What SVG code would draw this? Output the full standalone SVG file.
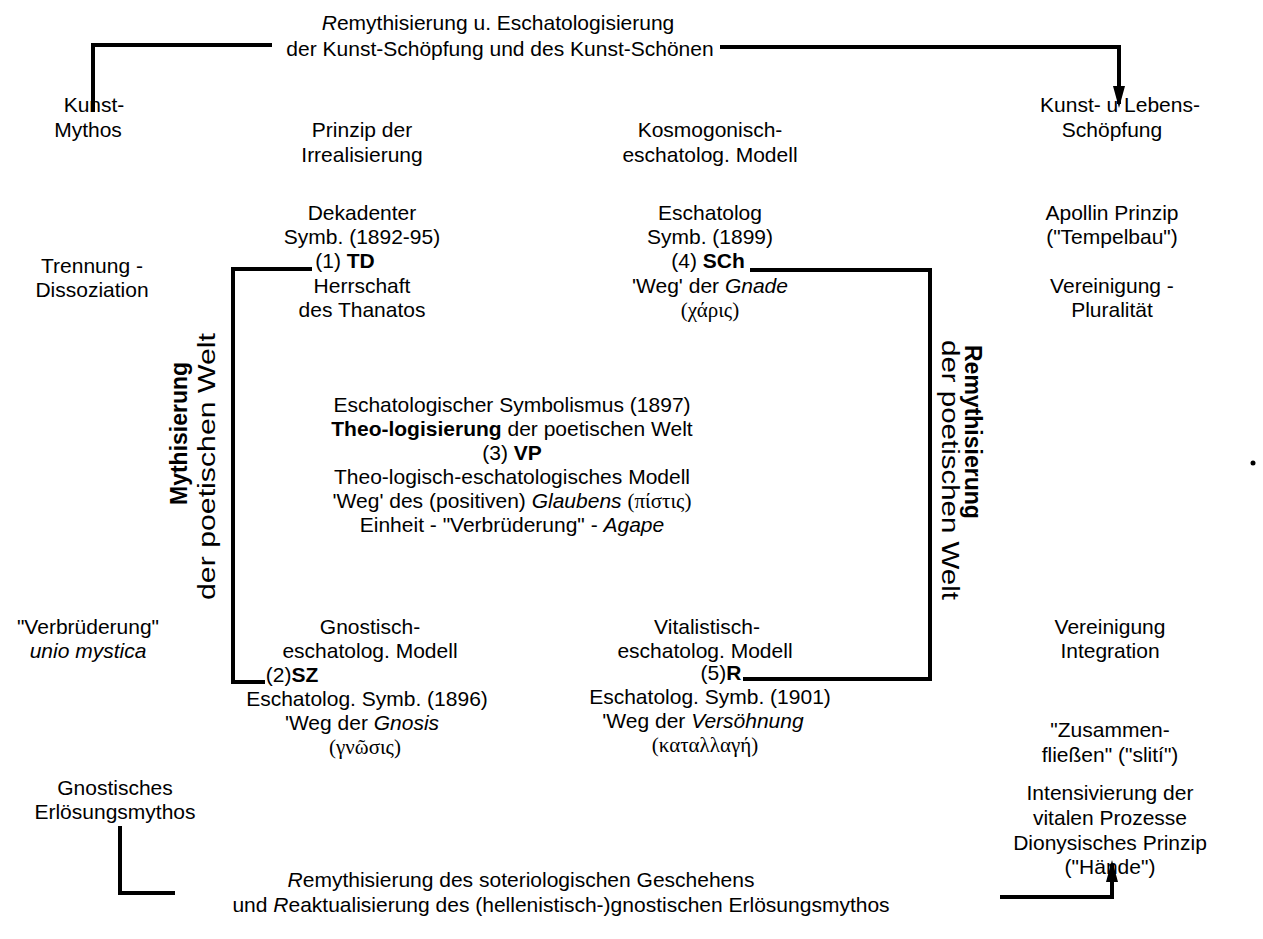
<svg xmlns="http://www.w3.org/2000/svg" width="1263" height="939" viewBox="0 0 1263 939">
<style>
text{font-family:"Liberation Sans",Arial,sans-serif;font-size:21px;fill:#000;text-anchor:middle}
.b{font-weight:bold}
.i{font-style:italic}
.gr{font-family:"Liberation Serif","DejaVu Serif",serif;font-size:21px}
.ln{fill:none;stroke:#000;stroke-width:4}
.vt{font-size:23px}
.st{text-anchor:start}
</style>
<defs>
<marker id="ah" markerUnits="userSpaceOnUse" viewBox="0 0 22 12" refX="18" refY="6" markerWidth="22" markerHeight="12" orient="auto">
<path d="M0,0 L22,6 L0,12 z" fill="#000"/>
</marker>
</defs>
<rect width="1263" height="939" fill="#fff"/>

<g id="connectors">
<path class="ln" d="M93,112 V45 H272"/>
<path class="ln" d="M720,47 H1119 V104" marker-end="url(#ah)"/>
<path class="ln" d="M312,269 H233 V682 H265"/>
<path class="ln" d="M750,270 H930 V679 H743"/>
<path class="ln" d="M120,826 V893 H175"/>
<path class="ln" d="M1000,897 H1112 V864" marker-end="url(#ah)"/>
</g>

<g id="label-top">
<text x="498" y="30"><tspan class="i">R</tspan>emythisierung u. Eschatologisierung</text>
<text x="500" y="56">der Kunst-Schöpfung und des Kunst-Schönen</text>
</g>
<g id="kunst-mythos">
<text x="94" y="112">Kunst-</text>
<text x="88" y="137">Mythos</text>
</g>
<g id="kunst-lebens">
<text x="1120" y="112">Kunst- u Lebens-</text>
<text x="1112" y="137">Schöpfung</text>
</g>
<g id="prinzip">
<text x="362" y="137">Prinzip der</text>
<text x="362" y="162">Irrealisierung</text>
</g>
<g id="kosmogonisch">
<text x="710" y="137">Kosmogonisch-</text>
<text x="710" y="162">eschatolog. Modell</text>
</g>
<g id="node-td">
<text x="362" y="220">Dekadenter</text>
<text x="362" y="244">Symb. (1892-95)</text>
<text x="345" y="268">(1) <tspan class="b">TD</tspan></text>
<text x="362" y="293">Herrschaft</text>
<text x="362" y="317">des Thanatos</text>
</g>
<g id="node-sch">
<text x="710" y="220">Eschatolog</text>
<text x="710" y="244">Symb.  (1899)</text>
<text x="708" y="268">(4) <tspan class="b">SCh</tspan></text>
<text x="710" y="293">'Weg' der <tspan class="i">Gnade</tspan></text>
<text x="710" y="317" class="gr">(χάρις)</text>
</g>
<g id="apollin">
<text x="1112" y="220">Apollin Prinzip</text>
<text x="1112" y="244">("Tempelbau")</text>
<text x="1112" y="293">Vereinigung -</text>
<text x="1112" y="317">Pluralität</text>
</g>
<g id="trennung">
<text x="92" y="273">Trennung  -</text>
<text x="92" y="297">Dissoziation</text>
</g>
<g id="node-vp">
<text x="512" y="412">Eschatologischer Symbolismus (1897)</text>
<text x="512" y="436"><tspan class="b">Theo-logisierung</tspan> der poetischen Welt</text>
<text x="512" y="460">(3) <tspan class="b">VP</tspan></text>
<text x="512" y="484">Theo-logisch-eschatologisches Modell</text>
<text x="512" y="508">'Weg' des (positiven) <tspan class="i">Glaubens</tspan> <tspan class="gr">(πίστις)</tspan></text>
<text x="512" y="532">Einheit - "Verbrüderung" - <tspan class="i">Agape</tspan></text>
</g>
<g id="mythisierung">
<text class="vt b st" transform="translate(187,505) rotate(-90)">Mythisierung</text>
<text class="vt st" transform="translate(215,600) rotate(-90)" textLength="267" lengthAdjust="spacingAndGlyphs">der poetischen Welt</text>
</g>
<g id="remythisierung">
<text class="vt b st" transform="translate(965,345) rotate(90)">Remythisierung</text>
<text class="vt st" transform="translate(942,340) rotate(90)" textLength="260" lengthAdjust="spacingAndGlyphs">der poetischen Welt</text>
</g>
<g id="verbruederung">
<text x="88" y="634">"Verbrüderung"</text>
<text x="88" y="658" class="i">unio mystica</text>
</g>
<g id="node-sz">
<text x="370" y="634">Gnostisch-</text>
<text x="370" y="658">eschatolog. Modell</text>
<text x="292" y="682">(2)<tspan class="b">SZ</tspan></text>
<text x="367" y="706">Eschatolog. Symb. (1896)</text>
<text x="362" y="730">'Weg der <tspan class="i">Gnosis</tspan></text>
<text x="365" y="754" class="gr">(γνῶσις)</text>
</g>
<g id="node-r">
<text x="707" y="634">Vitalistisch-</text>
<text x="705" y="658">eschatolog. Modell</text>
<text x="721" y="680">(5)<tspan class="b">R</tspan></text>
<text x="710" y="704">Eschatolog. Symb. (1901)</text>
<text x="703" y="728">'Weg der <tspan class="i">Versöhnung</tspan></text>
<text x="705" y="752" class="gr">(καταλλαγή)</text>
</g>
<g id="vereinigung">
<text x="1110" y="634">Vereinigung</text>
<text x="1110" y="658">Integration</text>
</g>
<g id="zusammen">
<text x="1110" y="737">"Zusammen-</text>
<text x="1110" y="762">fließen" ("slití")</text>
</g>
<g id="gnostisches">
<text x="115" y="795">Gnostisches</text>
<text x="115" y="819">Erlösungsmythos</text>
</g>
<g id="intensivierung">
<text x="1110" y="800">Intensivierung der</text>
<text x="1110" y="825">vitalen Prozesse</text>
<text x="1110" y="850">Dionysisches  Prinzip</text>
<text x="1110" y="874">("Hände")</text>
</g>
<g id="label-bottom">
<text x="521" y="887"><tspan class="i">R</tspan>emythisierung des soteriologischen Geschehens</text>
<text x="561" y="912">und <tspan class="i">R</tspan>eaktualisierung des (hellenistisch-)gnostischen Erlösungsmythos</text>
</g>
<circle cx="1253" cy="463" r="2.5" fill="#000"/>
</svg>
